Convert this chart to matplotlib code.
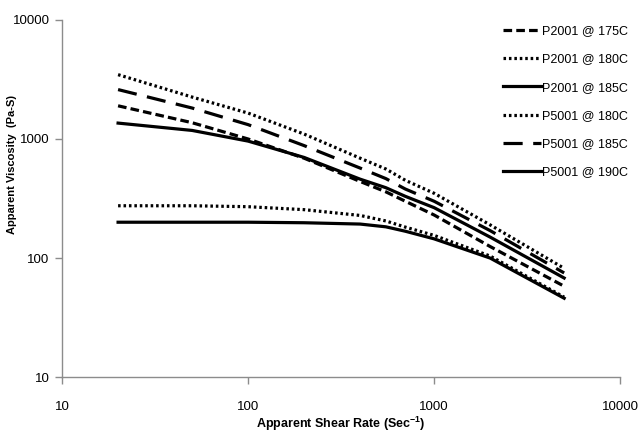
import matplotlib
matplotlib.use('Agg')
import matplotlib.pyplot as plt
from matplotlib.ticker import FixedLocator, FixedFormatter, NullLocator

plt.rcParams['font.family'] = ['Liberation Sans', 'DejaVu Sans']
plt.rcParams['mathtext.fontset'] = 'custom'
plt.rcParams['mathtext.bf'] = 'Liberation Sans:bold'
plt.rcParams['mathtext.rm'] = 'Liberation Sans'

shear_rate = [20, 50, 100, 200, 400, 550, 700, 1000, 2000, 5000]

# Apparent viscosity (Pa-s)
p2001_175 = [1900, 1370, 1000, 690, 440, 360, 300, 230, 125, 58]
p2001_180 = [275, 275, 270, 255, 228, 205, 182, 155, 104, 47]
p2001_185 = [200, 200, 200, 198, 193, 183, 168, 145, 100, 46]
p5001_180 = [3470, 2250, 1650, 1100, 690, 560, 450, 350, 190, 82]
p5001_185 = [2600, 1820, 1320, 880, 570, 465, 380, 300, 170, 75]
p5001_190 = [1360, 1180, 960, 700, 460, 390, 330, 265, 150, 68]

labels = ['P2001 @ 175C', 'P2001 @ 180C', 'P2001 @ 185C',
          'P5001 @ 180C', 'P5001 @ 185C', 'P5001 @ 190C']
series = [p2001_175, p2001_180, p2001_185, p5001_180, p5001_185, p5001_190]

short_dash = (0, (2.7, 1.3))
dots = (0, (0.8, 0.9))
long_dash = (0, (6, 3.3))
styles = [short_dash, dots, '-', dots, long_dash, '-']

fig = plt.figure(figsize=(6.4, 4.33), dpi=100)
ax = fig.add_axes([0.097, 0.129, 0.872, 0.825])

for vals, lab, ls in zip(series, labels, styles):
    ax.plot(shear_rate, vals, color='black', linestyle=ls, linewidth=2.3,
            dash_capstyle='butt', label=lab)

ax.set_xscale('log')
ax.set_yscale('log')
ax.set_xlim(10, 10000)
ax.set_ylim(10, 10000)

ticks = [10, 100, 1000, 10000]
tick_labels = ['10', '100', '1000', '10000']
ax.xaxis.set_major_locator(FixedLocator(ticks))
ax.xaxis.set_major_formatter(FixedFormatter(tick_labels))
ax.yaxis.set_major_locator(FixedLocator(ticks))
ax.yaxis.set_major_formatter(FixedFormatter(tick_labels))
ax.xaxis.set_minor_locator(NullLocator())
ax.yaxis.set_minor_locator(NullLocator())

for side in ['top', 'right']:
    ax.spines[side].set_visible(False)
for side in ['left', 'bottom']:
    ax.spines[side].set_color('#8c8c8c')
    ax.spines[side].set_linewidth(1.0)

ax.tick_params(axis='both', which='major', length=5, width=1.0, color='#8c8c8c',
               labelsize=9.5, direction='out')
ax.tick_params(axis='x', pad=12)
ax.tick_params(axis='y', pad=4)

ax.set_xlabel('Apparent Shear Rate (Sec$^{\\mathbf{-1}}$)', fontsize=9, fontweight='bold')
ax.xaxis.set_label_coords(0.5, -0.105)
ax.set_ylabel('Apparent Viscosity  (Pa-S)', fontsize=8, fontweight='bold')
ax.yaxis.set_label_coords(-0.08, 0.594)

ax.legend(loc='upper right', bbox_to_anchor=(1.014, 0.985), frameon=False, fontsize=9,
          handlelength=3.0, handletextpad=0.1, labelspacing=1.3, borderaxespad=0,
          borderpad=0)

fig.savefig('out.png', dpi=100)
